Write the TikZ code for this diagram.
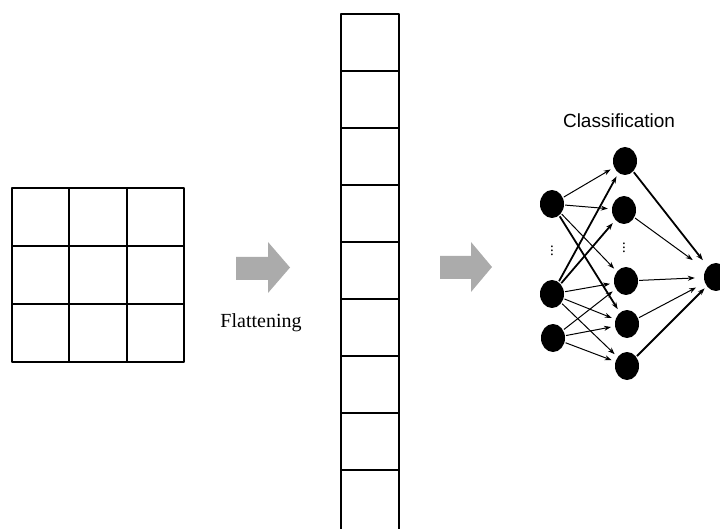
\documentclass[tikz,border=0pt]{standalone}
\usepackage{fontspec}
\setmainfont{Liberation Serif}
\setsansfont{Liberation Sans}
\usetikzlibrary{arrows.meta,shapes.geometric}
\tikzstyle{neuron} = [ellipse, fill=black, minimum width=24pt, minimum height=28pt, inner sep=0pt]
\tikzstyle{link} = [-{Stealth[length=7pt,width=5pt]}, line width=1pt, shorten >=4pt, shorten <=1pt]
\tikzstyle{heavy} = [link, line width=1.8pt]
\tikzstyle{cell} = [line width=2pt, line join=round]
\tikzstyle{bigarrow} = [fill=black!33]
\newcommand{\vd}{\fontsize{15}{15}\selectfont$\boldsymbol{\vdots}$}
\usepackage{amsmath}

\begin{document}
\begin{tikzpicture}[x=1pt,y=-1pt]
\useasboundingbox (0,0) rectangle (720,529);
% 3x3 input
\foreach \i in {0,1,2} \foreach \j in {0,1,2}
  \draw[cell] ({12+57.3*\i},{188+58*\j}) rectangle +(57.3,58);
% flattened column
\foreach \k in {0,...,7}
  \draw[cell] (341,{14+57*\k}) rectangle +(58,57);
\draw[cell] (341,540) -- (341,470) -- (399,470) -- (399,540);
% gray arrows
\fill[bigarrow] (236,257) -- (268,257) -- (268,242) -- (290,267.5) -- (268,293) -- (268,280) -- (236,280) -- cycle;
\fill[bigarrow] (440,256) -- (471,256) -- (471,242) -- (492,267) -- (471,292) -- (471,279) -- (440,279) -- cycle;
\node[anchor=base] (flat) at (261,327) {\fontsize{20}{22}\selectfont Flattening};
\node[anchor=base] (cls) at (619,128) {\sffamily\fontsize{19}{21}\selectfont Classification};
% network
\node[neuron] (i1) at (552,204) {};
\node[neuron] (i2) at (552,294) {};
\node[neuron] (i3) at (553,338) {};
\node[inner sep=0pt] (di) at (552,248) {\vd};
\node[neuron] (h1) at (625,161) {};
\node[neuron] (h2) at (624,210) {};
\node[inner sep=0pt] (dh) at (624,245) {\vd};
\node[neuron] (h3) at (626,281) {};
\node[neuron] (h4) at (627,324) {};
\node[neuron] (h5) at (627,366) {};
\node[neuron] (o) at (716,277) {};
\draw[link] (i1) -- (h1);
\draw[link] (i1) -- (h2);
\draw[link] (i1) -- (h3);
\draw[heavy] (i1) -- (h4);
\draw[heavy] (i2) -- (h1);
\draw[heavy] (i2) -- (h2);
\draw[link] (i2) -- (h3);
\draw[link] (i2) -- (h4);
\draw[link] (i2) -- (h5);
\draw[link] (i3) -- (h3);
\draw[link] (i3) -- (h4);
\draw[link] (i3) -- (h5);
\draw[heavy, shorten >=8pt] (h1) -- (o);
\draw[link, shorten >=16pt] (h2) -- (o);
\draw[link, shorten >=9pt] (h3) -- (o);
\draw[link, shorten >=10pt] (h4) -- (o);
\draw[heavy, shorten >=3pt] (h5) -- (o);
\end{tikzpicture}
\end{document}
